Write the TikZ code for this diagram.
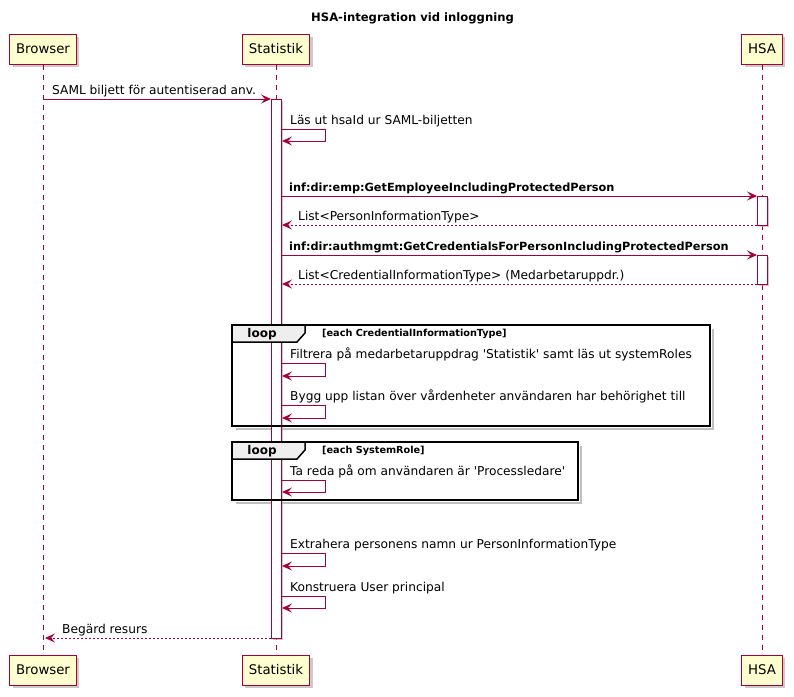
\documentclass[tikz,border=0pt]{standalone}
\usepackage{fontspec}
\setmainfont{DejaVu Sans}
\setmonofont{DejaVu Sans}
\newcommand{\sqt}{{\ttfamily'}}
\usetikzlibrary{arrows.meta,shadows}
\definecolor{pred}{HTML}{A80036}
\definecolor{pyel}{HTML}{FEFECE}
\definecolor{tabgray}{HTML}{EEEEEE}
\tikzset{
  part/.style={draw=pred, fill=pyel, line width=1pt, minimum height=30pt, inner xsep=6.5pt,
     font=\fontsize{13.3}{15}\selectfont, drop shadow={shadow xshift=3pt, shadow yshift=-3pt, fill=black!35, opacity=0.6}},
  life/.style={draw=pred, line width=0.8pt, dash pattern=on 5pt off 5pt},
  actbox/.style={draw=pred, fill=white, line width=1pt},
  msg/.style={draw=pred, line width=1pt, -{Stealth[length=10pt,width=9pt,inset=4pt]}},
  ret/.style={msg, dash pattern=on 2pt off 2pt},
  lbl/.style={anchor=base west, inner sep=0pt, font=\fontsize{12.2}{14}\selectfont},
  blbl/.style={anchor=base west, inner sep=0pt, font=\fontsize{11.3}{13}\selectfont\bfseries},
  frm/.style={draw=black, line width=1.5pt},
  fshadow/.style={draw=black!25, line width=2.5pt},
  cond/.style={anchor=base west, inner sep=0pt, font=\fontsize{9.7}{11}\selectfont\bfseries},
  looplbl/.style={inner sep=0pt, font=\fontsize{12}{13}\selectfont\bfseries},
}
\begin{document}
\begin{tikzpicture}[x=1pt,y=-1pt]
\useasboundingbox (0,0) rectangle (794,696);
\node[font=\fontsize{11.6}{14}\selectfont\bfseries] (title) at (412.5,18) {HSA-integration vid inloggning};
% participants
\node[part] (Bt) at (43,49) {Browser};
\node[part] (St) at (276,49) {Statistik};
\node[part] (Ht) at (762,49) {HSA};
\node[part] (Bb) at (43,670) {Browser};
\node[part] (Sb) at (276,670) {Statistik};
\node[part] (Hb) at (762,670) {HSA};
\draw[life] (Bt.south) -- (Bb.north);
\draw[life] (St.south) -- (Sb.north);
\draw[life] (Ht.south) -- (Hb.north);
% loop shadows
\draw[fshadow] (713,329) -- (713,429) -- (236,429);
\draw[fshadow] (581,446) -- (581,503) -- (236,503);
% activations
\draw[actbox, drop shadow={shadow xshift=2pt, shadow yshift=-2pt, fill=black!35, opacity=0.6}] (271,99) rectangle (281,638);
\draw[actbox, drop shadow={shadow xshift=2pt, shadow yshift=-2pt, fill=black!35, opacity=0.6}] (757,196) rectangle (767,225);
\draw[actbox, drop shadow={shadow xshift=2pt, shadow yshift=-2pt, fill=black!35, opacity=0.6}] (757,255) rectangle (767,284);
% loops
\draw[frm] (232,325) rectangle (710,426);
\draw[frm, fill=tabgray] (232,325) -- (305,325) -- (305,333) -- (297,342) -- (232,342) -- cycle;
\node[looplbl] (loop1) at (262,334) {loop};
\node[cond] (c1) at (322,336) {[each CredentialInformationType]};
\draw[frm] (232,442) rectangle (578,500);
\draw[frm, fill=tabgray] (232,442) -- (305,442) -- (305,450) -- (297,459) -- (232,459) -- cycle;
\node[looplbl] (loop2) at (262,451) {loop};
\node[cond] (c2) at (322,453) {[each SystemRole]};
% messages
\coordinate (a1) at (44,99); \coordinate (b1) at (271,99);
\draw[msg] (a1) -- (b1);
\node[lbl] (t1) at (52,94) {SAML biljett för autentiserad anv.};
% self 1
\coordinate (s1a) at (281,129); \coordinate (s1b) at (325,129); \coordinate (s1c) at (325,141); \coordinate (s1d) at (282,141);
\draw[msg] (s1a) -- (s1b) -- (s1c) -- (s1d);
\node[lbl] (t2) at (290,124) {Läs ut hsaId ur SAML-biljetten};
% call HSA 1
\coordinate (a3) at (281,196); \coordinate (b3) at (757,196);
\draw[msg] (a3) -- (b3);
\node[blbl] (t3) at (289,191) {inf:dir:emp:GetEmployeeIncludingProtectedPerson};
\coordinate (a4) at (757,225); \coordinate (b4) at (282,225);
\draw[ret] (a4) -- (b4);
\node[lbl] (t4) at (298,220) {List<PersonInformationType>};
\coordinate (a5) at (281,255); \coordinate (b5) at (757,255);
\draw[msg] (a5) -- (b5);
\node[blbl] (t5) at (289,250) {inf:dir:authmgmt:GetCredentialsForPersonIncludingProtectedPerson};
\coordinate (a6) at (757,284); \coordinate (b6) at (282,284);
\draw[ret] (a6) -- (b6);
\node[lbl] (t6) at (298,279) {List<CredentialInformationType> (Medarbetaruppdr.)};
% loop 1 selfs
\coordinate (s2a) at (281,363); \coordinate (s2b) at (325,363); \coordinate (s2c) at (325,376); \coordinate (s2d) at (282,376);
\draw[msg] (s2a) -- (s2b) -- (s2c) -- (s2d);
\node[lbl] (t7) at (290,358) {Filtrera på medarbetaruppdrag \sqt Statistik\sqt{} samt läs ut systemRoles};
\coordinate (s3a) at (281,405); \coordinate (s3b) at (325,405); \coordinate (s3c) at (325,418); \coordinate (s3d) at (282,418);
\draw[msg] (s3a) -- (s3b) -- (s3c) -- (s3d);
\node[lbl] (t8) at (290,400) {Bygg upp listan över vårdenheter användaren har behörighet till};
% loop 2 self
\coordinate (s4a) at (281,480); \coordinate (s4b) at (325,480); \coordinate (s4c) at (325,492); \coordinate (s4d) at (282,492);
\draw[msg] (s4a) -- (s4b) -- (s4c) -- (s4d);
\node[lbl] (t9) at (290,475) {Ta reda på om användaren är \sqt Processledare\sqt};
% after loops
\coordinate (s5a) at (281,553); \coordinate (s5b) at (325,553); \coordinate (s5c) at (325,566); \coordinate (s5d) at (282,566);
\draw[msg] (s5a) -- (s5b) -- (s5c) -- (s5d);
\node[lbl] (t10) at (290,548) {Extrahera personens namn ur PersonInformationType};
\coordinate (s6a) at (281,596); \coordinate (s6b) at (325,596); \coordinate (s6c) at (325,608); \coordinate (s6d) at (282,608);
\draw[msg] (s6a) -- (s6b) -- (s6c) -- (s6d);
\node[lbl] (t11) at (290,591) {Konstruera User principal};
\coordinate (a12) at (271,638); \coordinate (b12) at (45,638);
\draw[ret] (a12) -- (b12);
\node[lbl] (t12) at (62,633) {Begärd resurs};
\end{tikzpicture}
\end{document}
